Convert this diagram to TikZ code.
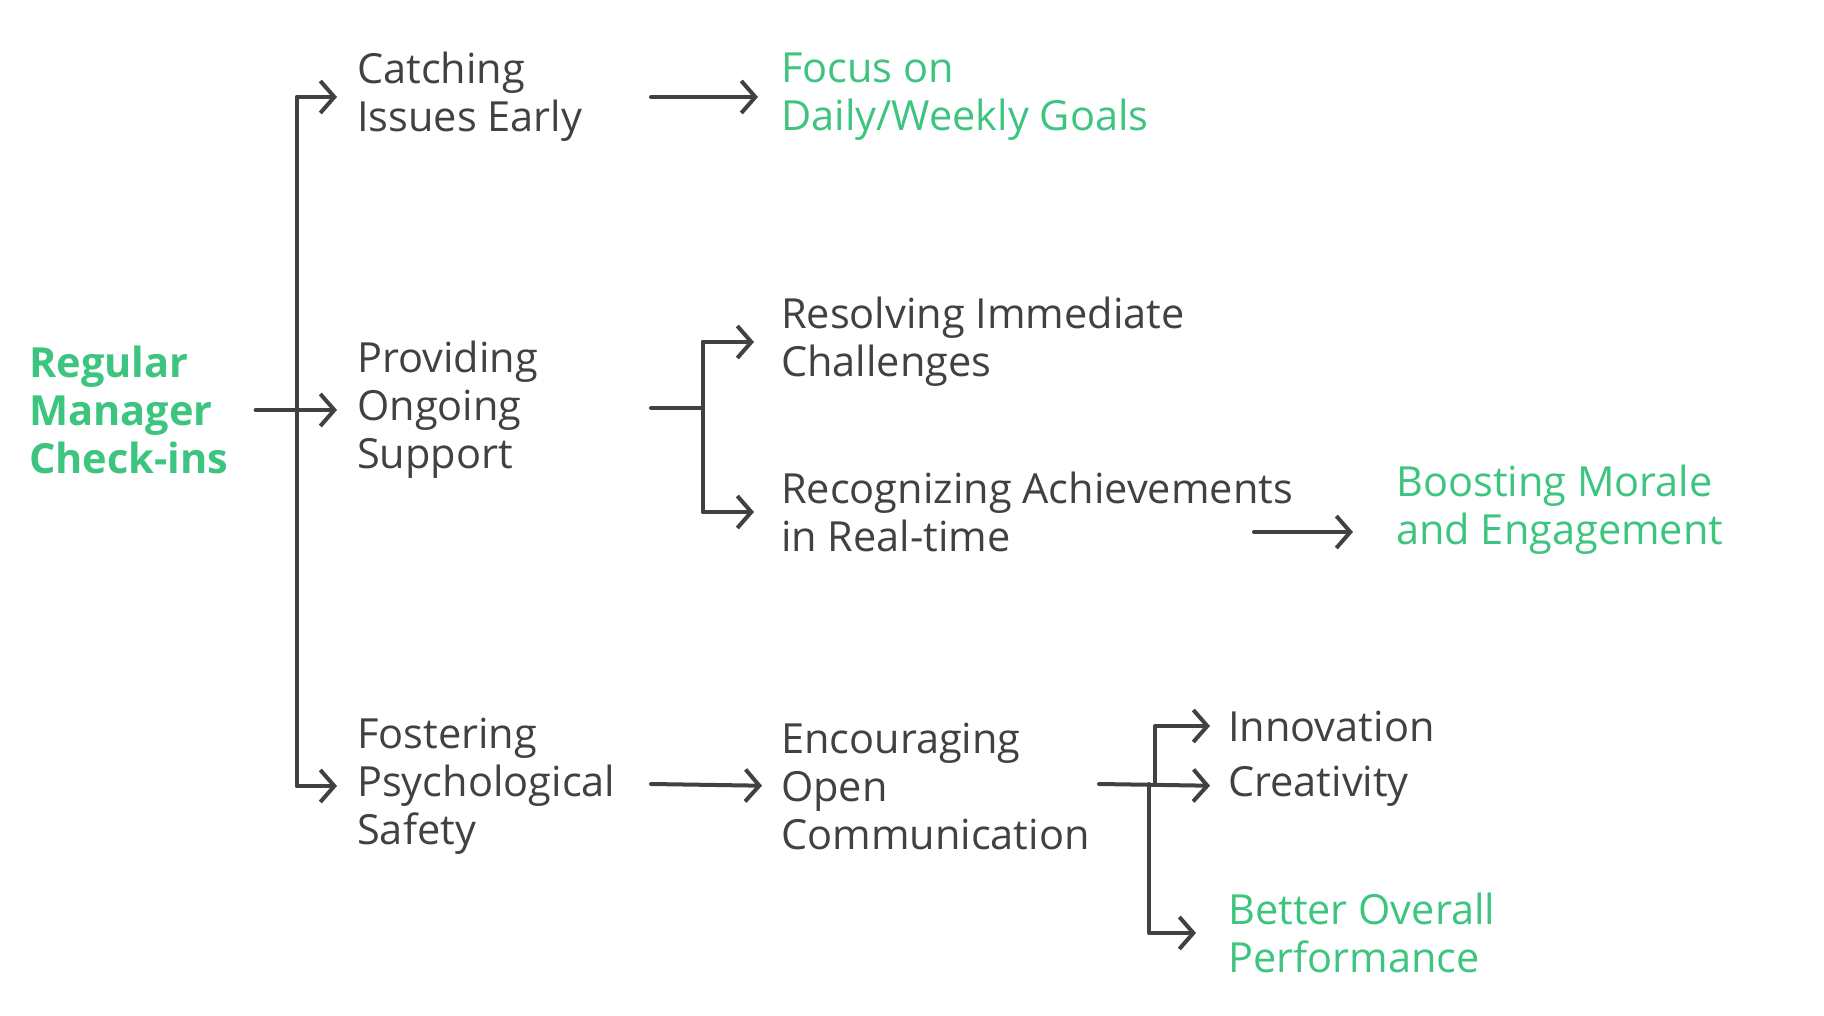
\documentclass[tikz,border=0pt]{standalone}
\usepackage{fontspec}
\setmainfont{Open Sans}
\usetikzlibrary{arrows.meta}
\definecolor{ink}{HTML}{414141}
\definecolor{leaf}{HTML}{3DC47E}
\begin{document}
\begin{tikzpicture}[x=1pt, y=-1pt,
    every node/.style={anchor=west, inner sep=0pt, align=left, text=ink,
      font=\fontsize{41.5}{48}\selectfont},
    goal/.style={text=leaf},
    rootnode/.style={text=leaf, font=\fontsize{41.5}{48}\selectfont\bfseries},
    link/.style={draw=ink, line width=4pt, line cap=round, line join=round},
    arr/.style={link, -{Straight Barb[length=14pt, width=32pt, line width=4pt]}}]
\useasboundingbox (0,0) rectangle (1824,1016);

% texts
\node[rootnode] (root) at (29,410) {Regular\\Manager\\Check-ins};
\node (catching) at (357,97) {Catching\\Issues Early};
\node (ongoing) at (357,410) {Providing\\Ongoing\\Support};
\node (fostering) at (357,786) {Fostering\\Psychological\\Safety};
\node[goal] (focus) at (781,97) {Focus on\\Daily/Weekly Goals};
\node (resolving) at (781,342) {Resolving Immediate\\Challenges};
\node (recognizing) at (781,512) {Recognizing Achievements\\in Real-time};
\node[goal] (boosting) at (1396,510) {Boosting Morale\\and Engagement};
\node (encouraging) at (781,786) {Encouraging\\Open\\Communication};
\node (innovation) at (1228,726) {Innovation};
\node (creativity) at (1228,786) {Creativity};
\node[goal] (better) at (1228,933) {Better Overall\\Performance};

% joints
\coordinate (trunk) at (297,408);
\coordinate (fork) at (703,408);
\coordinate (fork2) at (1155,784);
\coordinate (fork3) at (1149,784);
\coordinate (ra) at (1254,532);

% root and first level
\draw[arr, shorten <=27pt, shorten >=20pt] (root.east) -- (ongoing.west);
\draw[link] (trunk |- catching.west) -- (trunk |- fostering.west);
\draw[arr, shorten >=20pt] (trunk |- catching.west) -- (catching.west);
\draw[arr, shorten >=20pt] (trunk |- fostering.west) -- (fostering.west);

% second level
\draw[arr, shorten >=23pt] (651,97) -- (focus.west);
\draw[link] (651,408) -- (fork);
\draw[link] (fork |- resolving.west) -- (fork |- recognizing.west);
\draw[arr, shorten >=27pt] (fork |- resolving.west) -- (resolving.west);
\draw[arr, shorten >=27pt] (fork |- recognizing.west) -- (recognizing.west);
\draw[arr, shorten >=43pt] (ra) -- (ra -| boosting.west);
\draw[arr, shorten >=19pt] (651,784) -- (encouraging.west);

% third level
\draw[arr, shorten >=18pt] (1099,784) -- (creativity.west);
\draw[arr, shorten >=18pt] (fork2) -- (fork2 |- innovation.west) -- (innovation.west);
\draw[arr, shorten >=32pt] (fork3) -- (fork3 |- better.west) -- (better.west);
\end{tikzpicture}
\end{document}
